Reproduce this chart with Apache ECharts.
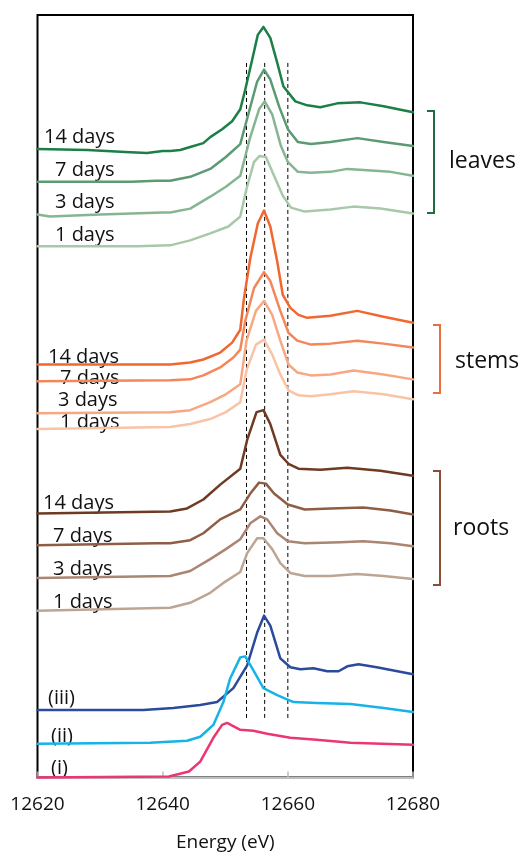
<!DOCTYPE html>
<html>
<head>
<meta charset="utf-8">
<script src="https://cdn.jsdelivr.net/npm/echarts@6/dist/echarts.min.js"></script>
<style>
  html, body { margin: 0; padding: 0; background: #fff; }
  #chart { width: 524px; height: 857px; }
</style>
</head>
<body>
<div id="chart"></div>
<script>
// Zn K-edge XANES spectra, stacked with vertical offsets (arbitrary units).
// Each series: [energy (eV), offset absorbance]

const leaves14 = [[12620,6.33],[12628,6.32],[12634,6.30],[12637.5,6.29],[12640,6.31],[12641.2,6.31],[12642.8,6.32],[12644.4,6.35],[12646.5,6.39],[12647.6,6.45],[12649.5,6.53],[12651.1,6.61],[12652.4,6.73],[12653.2,6.93],[12654.3,7.23],[12655.2,7.48],[12656.1,7.56],[12657.2,7.45],[12658.3,7.20],[12659.3,6.96],[12661.2,6.81],[12663.1,6.77],[12665.2,6.75],[12667.9,6.79],[12671.6,6.80],[12675.3,6.76],[12680,6.70]];
const leaves7 = [[12620,6.00],[12635,6.00],[12639,6.01],[12641.2,6.01],[12644.4,6.05],[12647.6,6.13],[12650.1,6.25],[12652.4,6.38],[12653.6,6.66],[12655.1,7.01],[12656.2,7.13],[12657.2,7.03],[12658.6,6.76],[12660,6.53],[12661.6,6.40],[12663.7,6.38],[12666.8,6.40],[12671.1,6.44],[12675.3,6.40],[12680,6.36]];
const leaves3 = [[12620,5.67],[12622,5.65],[12630,5.67],[12640,5.69],[12641.2,5.69],[12644.4,5.73],[12647.6,5.85],[12650.1,5.95],[12652.4,6.06],[12653.9,6.43],[12655.4,6.73],[12656.3,6.81],[12657.5,6.68],[12658.9,6.36],[12660,6.20],[12661.6,6.10],[12663.6,6.09],[12666.8,6.10],[12669.5,6.13],[12672.1,6.12],[12676.4,6.10],[12680,6.06]];
const leaves1 = [[12620,5.35],[12635.9,5.35],[12641.2,5.36],[12644.4,5.41],[12647.6,5.48],[12650.5,5.55],[12652.4,5.65],[12653.4,5.93],[12654.6,6.20],[12655.5,6.26],[12656.5,6.25],[12657.8,6.06],[12659.2,5.86],[12660.5,5.74],[12662.7,5.70],[12666.8,5.72],[12670.5,5.75],[12674.8,5.73],[12680,5.68]];

const stems14 = [[12620,4.16],[12630,4.16],[12641.2,4.16],[12644.4,4.18],[12646.5,4.21],[12649.2,4.28],[12651.1,4.38],[12652.4,4.51],[12653,4.83],[12654,5.23],[12655.2,5.58],[12656.2,5.71],[12657.2,5.55],[12658.3,5.20],[12659.2,4.86],[12660.4,4.73],[12661.7,4.66],[12663.1,4.63],[12666.8,4.65],[12671.1,4.70],[12675.3,4.64],[12680,4.58]];
const stems7 = [[12620,3.99],[12641.2,4.00],[12644.4,4.01],[12646.5,4.05],[12649.2,4.13],[12651.3,4.23],[12652.4,4.31],[12653.2,4.60],[12654.6,4.93],[12656.2,5.09],[12657.2,5.00],[12658.8,4.70],[12660.1,4.48],[12661.5,4.40],[12663.7,4.36],[12666.8,4.37],[12671.1,4.40],[12675.3,4.37],[12680,4.33]];
const stems3 = [[12620,3.67],[12641.2,3.68],[12644.4,3.70],[12647.6,3.78],[12650.1,3.86],[12652.4,3.96],[12653.4,4.40],[12654.9,4.70],[12656.2,4.80],[12657.5,4.66],[12658.8,4.40],[12660.1,4.16],[12661.5,4.08],[12663.7,4.05],[12666.8,4.06],[12670.5,4.10],[12675.3,4.06],[12680,4.01]];
const stems1 = [[12620,3.51],[12641.2,3.53],[12644.4,3.56],[12647.6,3.61],[12650.1,3.68],[12652.4,3.78],[12653.4,4.10],[12654.9,4.36],[12656.2,4.41],[12657.5,4.26],[12658.8,4.06],[12660.1,3.90],[12661.7,3.85],[12663.7,3.84],[12666.8,3.86],[12670.5,3.89],[12675.3,3.86],[12680,3.81]];

const roots14 = [[12620,2.66],[12641.2,2.68],[12643.9,2.71],[12646.5,2.80],[12649.2,2.95],[12652.4,3.11],[12653.5,3.40],[12655,3.68],[12656.1,3.70],[12657.2,3.56],[12658.8,3.25],[12660.1,3.16],[12661.7,3.11],[12665.2,3.10],[12669.5,3.12],[12674.8,3.09],[12680,3.04]];
const roots7 = [[12620,2.34],[12639,2.36],[12641.2,2.36],[12644.4,2.39],[12646.5,2.46],[12649.2,2.60],[12652.4,2.70],[12654,2.86],[12655.4,2.97],[12656.5,2.96],[12657.8,2.86],[12660,2.75],[12662.7,2.70],[12666.8,2.71],[12672.1,2.72],[12676.4,2.69],[12680,2.65]];
const roots3 = [[12620,2.01],[12641.2,2.03],[12644.4,2.08],[12647.6,2.20],[12650.1,2.30],[12652.4,2.40],[12654,2.56],[12655.6,2.63],[12656.7,2.60],[12658.3,2.46],[12660,2.38],[12662.7,2.36],[12668.4,2.37],[12672.1,2.38],[12676.4,2.36],[12680,2.33]];
const roots1 = [[12620,1.68],[12641.2,1.71],[12644.4,1.76],[12647.6,1.86],[12649.7,1.96],[12652.4,2.07],[12653.5,2.26],[12655.1,2.41],[12656.1,2.41],[12657.5,2.30],[12658.8,2.16],[12660.4,2.06],[12662.7,2.03],[12666.8,2.03],[12671.1,2.05],[12675.3,2.03],[12680,2.00]];

// Reference compounds
const refIII = [[12620,0.68],[12636.9,0.68],[12641.7,0.70],[12646,0.73],[12648.7,0.76],[12651.3,0.90],[12653.5,1.13],[12655.1,1.46],[12656.2,1.63],[12657.2,1.53],[12658.8,1.20],[12660.4,1.11],[12662,1.09],[12664.1,1.10],[12666.3,1.07],[12668.1,1.07],[12669.5,1.12],[12671.3,1.14],[12674.2,1.11],[12680,1.04]];
const refII = [[12620,0.34],[12638,0.35],[12643.9,0.37],[12646,0.41],[12648.1,0.53],[12649.7,0.76],[12650.8,1.00],[12652.4,1.21],[12653.2,1.22],[12654.5,1.08],[12656.1,0.90],[12658.3,0.83],[12660.9,0.76],[12664.6,0.75],[12670,0.74],[12675.3,0.70],[12680,0.66]];
const refI = [[12620,0.00],[12641,0.01],[12644.2,0.06],[12646,0.16],[12648.1,0.40],[12649.5,0.53],[12650.3,0.55],[12652.4,0.48],[12654.5,0.47],[12656.7,0.44],[12660.4,0.40],[12664.6,0.38],[12670,0.35],[12680,0.33]];

// Guide lines at feature energies
const guideEnergies = [12653.4, 12656.3, 12660];
const guideRange = [0.60, 7.20];

const xTicks = { min: 12620, max: 12680, interval: 20 };

const seriesDefs = [
  { name: 'leaves 14 days', data: leaves14, color: '#1d7f48' },
  { name: 'leaves 7 days', data: leaves7, color: '#5b9a72' },
  { name: 'leaves 3 days', data: leaves3, color: '#86b591' },
  { name: 'leaves 1 days', data: leaves1, color: '#a8c8aa' },
  { name: 'stems 14 days', data: stems14, color: '#f0682f' },
  { name: 'stems 7 days', data: stems7, color: '#f3875a' },
  { name: 'stems 3 days', data: stems3, color: '#f7a883' },
  { name: 'stems 1 days', data: stems1, color: '#f9c3a6' },
  { name: 'roots 14 days', data: roots14, color: '#6e3a22' },
  { name: 'roots 7 days', data: roots7, color: '#8f5d43' },
  { name: 'roots 3 days', data: roots3, color: '#ab8573' },
  { name: 'roots 1 days', data: roots1, color: '#bda594' },
  { name: '(iii)', data: refIII, color: '#2a4b9b' },
  { name: '(ii)', data: refII, color: '#16b3e8' },
  { name: '(i)', data: refI, color: '#ec3670' }
];

const FONT = '"Open Sans", "Noto Sans", sans-serif';
const TXT = '#111';

const series = [];
guideEnergies.forEach(function (e, i) {
  series.push({
    name: 'guide' + i,
    type: 'line',
    data: [[e, guideRange[0]], [e, guideRange[1]]],
    symbol: 'none',
    silent: true,
    clip: false,
    lineStyle: { color: '#000', width: 1, type: [4, 3] },
    z: 1
  });
});
seriesDefs.forEach(function (s) {
  series.push({
    name: s.name,
    type: 'line',
    data: s.data,
    symbol: 'none',
    clip: false,
    lineStyle: { color: s.color, width: 2.5, join: 'round', cap: 'round' },
    z: 2
  });
});

// Sample labels at the left of each trace: [text, left, vertical centre]
const sampleLabels = [
  ['14 days', 44, 137], ['7 days', 55, 170], ['3 days', 55, 202], ['1 days', 55, 235],
  ['14 days', 48, 357], ['7 days', 60, 378], ['3 days', 58, 400], ['1 days', 60, 422],
  ['14 days', 43, 503], ['7 days', 53, 536], ['3 days', 53, 569], ['1 days', 53, 602],
  ['(iii)', 48, 698], ['(ii)', 51, 736], ['(i)', 51, 768]
];

const graphic = sampleLabels.map(function (l) {
  return {
    type: 'text', x: l[1], y: l[2],
    style: { text: l[0], font: '20px ' + FONT, fill: TXT, verticalAlign: 'middle', align: 'left' }
  };
});

// Tissue brackets
const brackets = [
  { x0: 427, x1: 434, y0: 111, y1: 213, color: '#1f6e40', label: 'leaves', lx: 449, ly: 161 },
  { x0: 433, x1: 440, y0: 325, y1: 393, color: '#e8703f', label: 'stems', lx: 455, ly: 361 },
  { x0: 433, x1: 440, y0: 471, y1: 585, color: '#8f4a35', label: 'roots', lx: 453, ly: 528 }
];
brackets.forEach(function (b) {
  graphic.push({
    type: 'polyline',
    shape: { points: [[b.x0, b.y0], [b.x1, b.y0], [b.x1, b.y1], [b.x0, b.y1]] },
    style: { stroke: b.color, lineWidth: 2, fill: null }
  });
  graphic.push({
    type: 'text', x: b.lx, y: b.ly,
    style: { text: b.label, font: '23px ' + FONT, fill: TXT, verticalAlign: 'middle', align: 'left' }
  });
});

const chart = echarts.init(document.getElementById('chart'), null, { renderer: 'canvas' });
chart.setOption({
  animation: false,
  backgroundColor: '#fff',
  grid: {
    left: 37.5, right: 111, top: 15, bottom: 74,
    show: true, borderColor: '#000', borderWidth: 2, backgroundColor: 'transparent'
  },
  xAxis: {
    type: 'value',
    min: xTicks.min, max: xTicks.max, interval: xTicks.interval,
    name: 'Energy (eV)',
    nameLocation: 'middle',
    nameGap: 65,
    nameTextStyle: { fontFamily: FONT, fontSize: 19, color: TXT, verticalAlign: 'middle' },
    axisLine: { show: true, lineStyle: { color: '#bfbfbf', width: 2 } },
    axisTick: { show: true, inside: true, length: 6, lineStyle: { color: '#bfbfbf', width: 1.5 } },
    axisLabel: {
      fontFamily: FONT, fontSize: 19, color: TXT, margin: 18,
      formatter: function (v) { return String(v); }
    },
    splitLine: { show: false }
  },
  yAxis: {
    type: 'value', min: 0, max: 7.68,
    show: false,
    splitLine: { show: false }
  },
  series: series,
  graphic: graphic
});
</script>
</body>
</html>
